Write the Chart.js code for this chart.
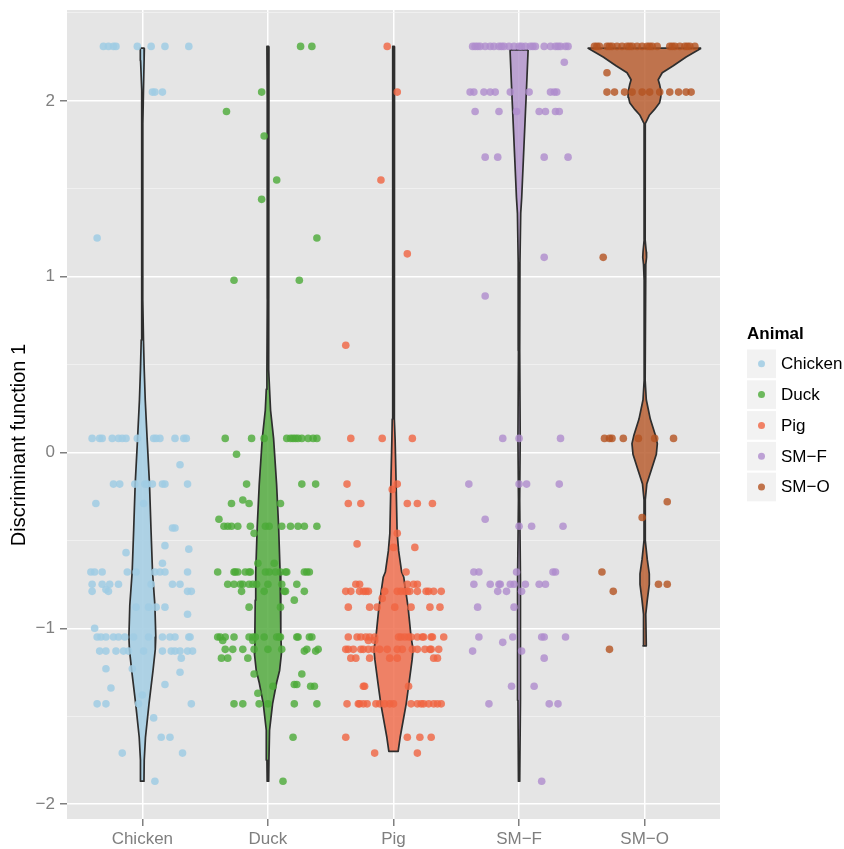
<!DOCTYPE html>
<html><head><meta charset="utf-8">
<script src="https://cdn.jsdelivr.net/npm/chart.js@4"></script>
<style>html,body{margin:0;padding:0;background:#fff;}#wrap{width:844px;height:849px;}</style>
</head><body><div id="wrap"><canvas id="c" width="844" height="849"></canvas></div>
<script>
const categories = ['Chicken','Duck','Pig','SM\u2212F','SM\u2212O'];
const yMajorTicks = [-2,-1,0,1,2];
const yMinorTicks = [-1.5,-0.5,0.5,1.5,2.5];
const yTitle = 'Discriminant function 1';
const legendTitle = 'Animal';
const pointColors = ['rgba(160,204,228,0.85)','rgba(75,170,55,0.8)','rgba(240,100,65,0.8)','rgba(175,140,205,0.8)','rgba(180,82,32,0.8)'];
const violinColors = ['rgba(166,206,227,0.9)','rgba(85,172,65,0.85)','rgba(240,112,80,0.85)','rgba(180,150,205,0.85)','rgba(185,95,50,0.85)'];

// jittered observations: [value, [horizontal jitter offsets]]
const chickenRows = [
 [2.31,[-0.31,-0.27,-0.23,-0.21,-0.04,0.07,0.18,0.37]],
 [2.05,[0.08,0.10,0.16]],
 [1.22,[-0.36]],
 [0.08,[-0.40,-0.34,-0.32,-0.24,-0.19,-0.16,-0.13,-0.04,0.09,0.11,0.14,0.26,0.33,0.35]],
 [-0.07,[0.30]],
 [-0.18,[-0.23,-0.18,-0.06,0.02,0.04,0.08,0.16,0.18,0.36]],
 [-0.29,[-0.37,0.01]],
 [-0.43,[0.24,0.26]],
 [-0.53,[0.18]],
 [-0.55,[0.37]],
 [-0.57,[-0.13]],
 [-0.63,[0.16]],
 [-0.68,[-0.41,-0.38,-0.32,-0.12,-0.05,0.10,0.14,0.18,0.36]],
 [-0.75,[-0.40,-0.32,-0.26,-0.19,0.07,0.24,0.30]],
 [-0.78,[-0.29]],
 [-0.79,[-0.40,-0.27,0.36,0.39]],
 [-0.88,[-0.05,0.05,0.11,0.18]],
 [-0.92,[0.36]],
 [-1.00,[-0.38]],
 [-1.05,[-0.36,-0.33,-0.29,-0.23,-0.19,-0.14,-0.07,0.05,0.16,0.22,0.26,0.37,0.38]],
 [-1.13,[-0.34,-0.29,-0.21,-0.15,-0.11,0.01,0.16,0.23,0.26,0.30,0.36,0.40]],
 [-1.17,[0.31]],
 [-1.23,[-0.29,-0.08]],
 [-1.25,[0.30]],
 [-1.32,[0.18]],
 [-1.34,[-0.25]],
 [-1.38,[0.00]],
 [-1.43,[-0.36,-0.29,-0.03,0.39]],
 [-1.51,[0.09]],
 [-1.62,[0.15,0.22]],
 [-1.71,[-0.16,0.32]],
 [-1.87,[0.10]]
];
const duckRows = [
 [2.31,[0.26,0.35]],
 [2.05,[-0.05]],
 [1.94,[-0.33]],
 [1.80,[-0.03]],
 [1.55,[0.07]],
 [1.44,[-0.05]],
 [1.22,[0.39]],
 [0.98,[-0.27,0.25]],
 [0.08,[-0.34,-0.13,-0.03,0.15,0.18,0.20,0.22,0.24,0.27,0.32,0.36,0.39]],
 [-0.01,[-0.25]],
 [-0.18,[-0.17,0.27,0.38]],
 [-0.27,[-0.20]],
 [-0.29,[-0.29,-0.15,0.10]],
 [-0.38,[-0.39]],
 [-0.42,[-0.35,-0.32,-0.29,-0.24,-0.14,-0.02,0.01,0.11,0.18,0.24,0.29,0.39]],
 [-0.46,[-0.11]],
 [-0.63,[-0.08,0.05]],
 [-0.68,[-0.40,-0.27,-0.26,-0.24,-0.18,-0.15,-0.14,-0.02,0.01,0.06,0.10,0.14,0.15,0.29,0.31,0.33]],
 [-0.75,[-0.32,-0.27,-0.22,-0.20,-0.15,-0.12,-0.09,0.00,0.11,0.23]],
 [-0.79,[-0.21,-0.03,0.13,0.14,0.29]],
 [-0.84,[0.21]],
 [-0.88,[-0.15,0.10]],
 [-1.05,[-0.40,-0.38,-0.34,-0.27,-0.15,-0.12,-0.10,-0.03,0.07,0.09,0.10,0.23,0.24,0.33,0.35]],
 [-1.07,[-0.36,-0.12]],
 [-1.12,[-0.34,-0.28,-0.20,-0.11,0.00,0.11,0.31,0.40]],
 [-1.13,[0.29,0.38]],
 [-1.17,[-0.37,-0.32,-0.16]],
 [-1.26,[-0.11,0.27]],
 [-1.32,[0.21,0.23]],
 [-1.33,[0.04,0.34,0.37]],
 [-1.37,[-0.08]],
 [-1.43,[-0.27,-0.20,-0.07,0.00,0.21,0.39]],
 [-1.62,[0.20]],
 [-1.87,[0.12]]
];
const pigRows = [
 [2.31,[-0.05]],
 [2.05,[0.03]],
 [1.55,[-0.10]],
 [1.13,[0.11]],
 [0.61,[-0.38]],
 [0.08,[-0.34,-0.09,0.15]],
 [-0.18,[-0.37,0.03]],
 [-0.21,[-0.01]],
 [-0.29,[-0.36,-0.26,0.11,0.19,0.31]],
 [-0.46,[0.03]],
 [-0.52,[-0.29]],
 [-0.54,[0.00,0.17]],
 [-0.68,[0.10]],
 [-0.75,[-0.30,-0.27,0.11,0.16,0.19]],
 [-0.79,[-0.38,-0.34,-0.27,-0.24,-0.22,-0.20,-0.07,0.03,0.06,0.09,0.11,0.13,0.19,0.26,0.28,0.32,0.38]],
 [-0.83,[-0.09]],
 [-0.88,[-0.36,-0.19,-0.13,0.01,0.14,0.29,0.37]],
 [-1.05,[-0.36,-0.29,-0.26,-0.22,-0.19,-0.15,0.04,0.06,0.09,0.12,0.14,0.19,0.23,0.24,0.30,0.31,0.40]],
 [-1.07,[-0.20,-0.15]],
 [-1.12,[-0.38,-0.36,-0.32,-0.26,-0.24,-0.20,-0.16,-0.11,-0.05,0.03,0.07,0.15,0.19,0.25,0.29,0.30,0.36]],
 [-1.17,[-0.34,-0.30,-0.19,-0.03,0.03,0.32,0.35]],
 [-1.33,[-0.24,-0.23,0.12]],
 [-1.43,[-0.37,-0.28,-0.27,-0.24,-0.21,-0.14,-0.11,-0.07,-0.03,0.00,0.14,0.19,0.22,0.24,0.28,0.32,0.35,0.38]],
 [-1.62,[-0.38,0.11,0.21,0.30]],
 [-1.71,[-0.15,0.19]]
];
const smfRows = [
 [2.31,[-0.37,-0.35,-0.33,-0.31,-0.27,-0.23,-0.20,-0.16,-0.14,-0.12,-0.08,-0.04,0.00,0.02,0.05,0.09,0.11,0.13,0.20,0.25,0.29,0.31,0.33,0.37,0.39]],
 [2.22,[0.36]],
 [2.05,[-0.39,-0.36,-0.28,-0.23,-0.19,-0.07,0.08,0.25,0.28,0.30]],
 [1.94,[-0.35,-0.16,-0.02,0.16,0.21,0.29,0.32]],
 [1.68,[-0.27,-0.17,0.20,0.39]],
 [1.11,[0.20]],
 [0.89,[-0.27]],
 [0.08,[-0.13,0.00,0.33]],
 [-0.18,[-0.40,0.00,0.06,0.32]],
 [-0.38,[-0.27]],
 [-0.42,[0.00,0.10,0.35]],
 [-0.68,[-0.36,-0.32,-0.02,0.27,0.29]],
 [-0.75,[-0.36,-0.23,-0.16,-0.15,-0.07,-0.04,0.05,0.16,0.21]],
 [-0.79,[-0.17,-0.10,0.02]],
 [-0.88,[-0.33,-0.04]],
 [-1.05,[-0.32,-0.05,0.18,0.20,0.37]],
 [-1.08,[-0.13]],
 [-1.13,[-0.37,0.02]],
 [-1.17,[0.20]],
 [-1.33,[-0.06,0.12]],
 [-1.43,[-0.24,0.24,0.31]],
 [-1.87,[0.18]]
];
const smoRows = [
 [2.31,[-0.40,-0.38,-0.36,-0.30,-0.28,-0.26,-0.22,-0.18,-0.14,-0.12,-0.10,-0.06,-0.02,0.02,0.04,0.06,0.10,0.20,0.22,0.24,0.28,0.32,0.34,0.36,0.40]],
 [2.16,[-0.30]],
 [2.05,[-0.30,-0.24,-0.16,-0.10,-0.02,0.04,0.12,0.20,0.27,0.33,0.37]],
 [1.11,[-0.33]],
 [0.08,[-0.32,-0.28,-0.26,-0.17,-0.05,0.08,0.23]],
 [-0.28,[0.18]],
 [-0.37,[-0.02]],
 [-0.68,[-0.34]],
 [-0.75,[0.11,0.18]],
 [-0.79,[-0.25]],
 [-1.12,[-0.28]]
];

// violin profiles: value levels and density half-widths (category units)
const chickenViolinY = [2.30,2.23,2.06,1.87,1.44,0.87,0.64,0.47,0.30,0.08,-0.18,-0.44,-0.68,-0.87,-1.05,-1.12,-1.24,-1.43,-1.62,-1.75,-1.87];
const chickenViolinW = [0.016,0.014,0.009,0.004,0.003,0.004,0.009,0.015,0.023,0.038,0.057,0.069,0.081,0.100,0.107,0.103,0.085,0.053,0.025,0.015,0.013];
const duckViolinY = [2.31,2.00,1.44,0.87,0.47,0.36,0.24,0.08,-0.18,-0.42,-0.68,-0.84,-1.03,-1.14,-1.24,-1.31,-1.43,-1.58,-1.75,-1.87];
const duckViolinW = [0.008,0.006,0.005,0.005,0.008,0.013,0.021,0.045,0.069,0.085,0.097,0.101,0.104,0.108,0.093,0.069,0.037,0.013,0.008,0.006];
const pigViolinY = [2.31,2.00,0.87,0.41,0.19,0.07,-0.18,-0.46,-0.56,-0.68,-0.71,-0.79,-0.88,-1.05,-1.12,-1.18,-1.31,-1.43,-1.62,-1.70];
const pigViolinW = [0.008,0.006,0.005,0.006,0.010,0.013,0.021,0.029,0.041,0.065,0.082,0.098,0.116,0.140,0.156,0.148,0.124,0.101,0.053,0.037];
const smfViolinY = [2.29,2.05,1.94,1.68,1.55,1.45,1.36,1.08,0.58,0.08,-0.27,-0.73,-1.07,-1.41,-1.87];
const smfViolinW = [0.072,0.058,0.051,0.035,0.027,0.021,0.013,0.007,0.005,0.009,0.005,0.011,0.013,0.009,0.005];
const smoViolinY = [2.30,2.25,2.20,2.16,2.12,2.09,2.05,2.02,1.99,1.95,1.92,1.87,1.44,1.21,1.14,1.11,1.07,0.98,0.41,0.30,0.19,0.10,0.05,-0.01,-0.10,-0.18,-0.27,-0.50,-0.61,-0.69,-0.75,-0.84,-0.92,-1.10];
const smoViolinW = [0.450,0.330,0.228,0.140,0.108,0.120,0.132,0.128,0.119,0.077,0.039,0.005,0.004,0.004,0.013,0.015,0.009,0.004,0.004,0.013,0.045,0.085,0.101,0.093,0.053,0.017,0.005,0.005,0.021,0.037,0.037,0.021,0.009,0.013];

const allRows = [chickenRows, duckRows, pigRows, smfRows, smoRows];
const allViolinY = [chickenViolinY, duckViolinY, pigViolinY, smfViolinY, smoViolinY];
const allViolinW = [chickenViolinW, duckViolinW, pigViolinW, smfViolinW, smoViolinW];

const FONT = '"Liberation Sans", Arial, Helvetica, sans-serif';
const isMajor = v => yMajorTicks.some(t => Math.abs(t - v) < 1e-9);
const fmt = v => v < 0 ? '\u2212' + Math.abs(v) : String(v);

function pointsFor(rows, center) {
  const out = [];
  rows.forEach(([val, offs]) => offs.forEach(o => out.push({x: center + o, y: val})));
  return out;
}
function violinShape(center, ys, ws) {
  const pts = [];
  for (let i = 0; i < ys.length; i++) pts.push({x: center + ws[i], y: ys[i]});
  for (let i = ys.length - 1; i >= 0; i--) pts.push({x: center - ws[i], y: ys[i]});
  pts.push({x: center + ws[0], y: ys[0]});
  return pts;
}

const datasets = [];
categories.forEach((c, i) => {
  datasets.push({
    type: 'scatter', label: c, data: pointsFor(allRows[i], i + 1),
    backgroundColor: pointColors[i], borderWidth: 0, pointRadius: 3.8, pointHoverRadius: 3.8, order: 0
  });
});
categories.forEach((c, i) => {
  datasets.push({
    type: 'line', label: c + ' violin', data: violinShape(i + 1, allViolinY[i], allViolinW[i]),
    borderColor: '#2E2E2E', borderWidth: 1.7, backgroundColor: violinColors[i], fill: 'shape',
    pointRadius: 0, tension: 0, order: 1, borderJoinStyle: 'round'
  });
});

const panelBg = {
  id: 'panelBg',
  beforeDraw(chart) {
    const a = chart.chartArea, ctx = chart.ctx;
    ctx.save(); ctx.fillStyle = '#E5E5E5';
    ctx.fillRect(a.left, a.top, a.right - a.left, a.bottom - a.top);
    ctx.restore();
  }
};
const titlesAndLegend = {
  id: 'titlesAndLegend',
  afterDraw(chart) {
    const ctx = chart.ctx;
    ctx.save();
    ctx.save();
    ctx.translate(19, 445);
    ctx.rotate(-Math.PI / 2);
    ctx.textAlign = 'center';
    ctx.textBaseline = 'middle';
    ctx.fillStyle = '#000';
    ctx.font = '20px ' + FONT;
    ctx.fillText(yTitle, 0, 0);
    ctx.restore();
    ctx.textAlign = 'left';
    ctx.textBaseline = 'alphabetic';
    ctx.fillStyle = '#000';
    ctx.font = 'bold 17px ' + FONT;
    ctx.fillText(legendTitle, 747, 339);
    categories.forEach((c, i) => {
      const top = 349.5 + i * 30.8;
      ctx.fillStyle = '#F2F2F2';
      ctx.fillRect(747, top, 29, 28.6);
      ctx.beginPath();
      ctx.arc(761.5, top + 14.3, 3.5, 0, Math.PI * 2);
      ctx.fillStyle = pointColors[i];
      ctx.fill();
      ctx.fillStyle = '#000';
      ctx.font = '17px ' + FONT;
      ctx.textBaseline = 'middle';
      ctx.fillText(c, 781, top + 15);
    });
    ctx.restore();
  }
};

new Chart(document.getElementById('c'), {
  type: 'scatter',
  data: { datasets },
  options: {
    responsive: false, animation: false, devicePixelRatio: 1, events: [],
    layout: { padding: { left: 0, top: 10, right: 124, bottom: 0 } },
    plugins: { legend: { display: false }, tooltip: { enabled: false } },
    scales: {
      x: {
        type: 'linear', min: 0.4, max: 5.6,
        afterBuildTicks: s => { s.ticks = categories.map((c, i) => ({ value: i + 1 })); },
        afterFit: s => { s.height = 30; s.paddingLeft = 0; s.paddingRight = 0; },
        border: { display: false },
        grid: { color: '#FFFFFF', lineWidth: 1.5, tickColor: '#7F7F7F', tickLength: 7 },
        ticks: { autoSkip: false, maxRotation: 0, padding: 3, color: '#7F7F7F', font: { size: 17, family: FONT },
                 callback: v => categories[Math.round(v) - 1] }
      },
      y: {
        type: 'linear', min: -2.085, max: 2.517,
        afterBuildTicks: s => { s.ticks = yMajorTicks.concat(yMinorTicks).sort((a, b) => a - b).map(v => ({ value: v })); },
        afterFit: s => { s.width = 67; s.paddingTop = 0; s.paddingBottom = 0; },
        border: { display: false },
        grid: {
          color: c => isMajor(c.tick.value) ? '#FFFFFF' : '#F2F2F2',
          lineWidth: c => isMajor(c.tick.value) ? 1.5 : 0.8,
          tickColor: c => isMajor(c.tick.value) ? '#7F7F7F' : 'rgba(0,0,0,0)',
          tickLength: 7
        },
        ticks: { autoSkip: false, padding: 5, color: '#7F7F7F', font: { size: 17, family: FONT },
                 callback: v => isMajor(v) ? fmt(v) : '' }
      }
    }
  },
  plugins: [panelBg, titlesAndLegend]
});
</script></body></html>
